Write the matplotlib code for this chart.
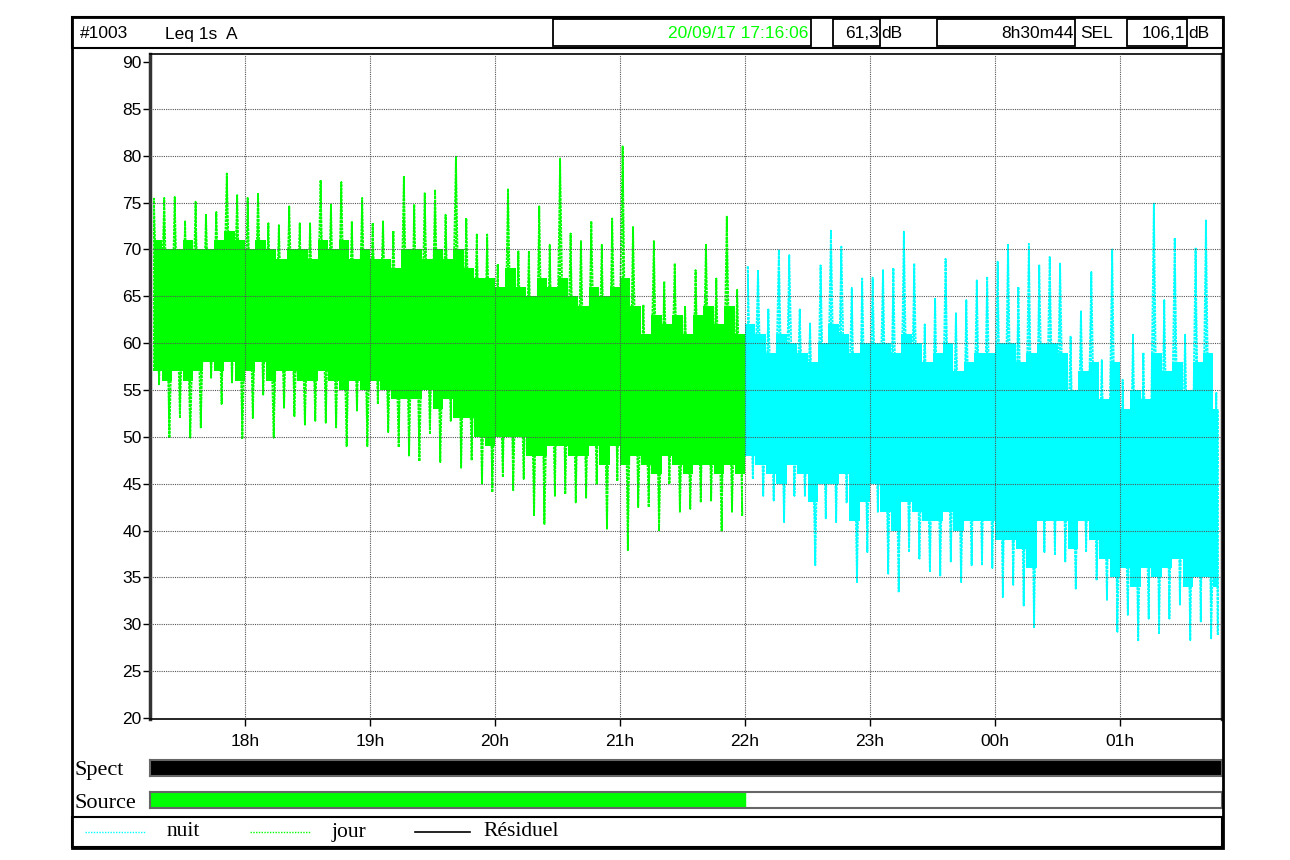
import matplotlib.pyplot as plt
import numpy as np
from matplotlib.lines import Line2D
from matplotlib.patches import Rectangle

# Recording: 20/09/17 17:16:06, duration 8h30m44, Leq 1s A
START = 17 + 16 / 60 + 6 / 3600
END = START + 8 + 30 / 60 + 44 / 3600
NIGHT_START = 22.0
STEP = 1 / 12  # 5 min blocks, first block starts at 17:15

# Per 5-min block: highest spike, lowest dip (dB)
peak_db = [75.5, 75.5, 75.6, 73.0, 75.1, 73.7, 74.0, 78.1, 75.8, 75.5, 76.0, 72.8, 72.6, 74.6, 72.8, 72.8, 77.4,
           74.8, 77.2, 73.0, 75.5, 72.8, 73.0, 72.0, 77.8, 74.8, 76.0, 76.3, 73.7, 79.9, 73.3, 71.6, 71.6, 68.4,
           76.5, 69.8, 69.8, 74.6, 70.5, 79.7, 71.7, 70.9, 73.0, 70.5, 73.3, 81.0, 72.4, 64.1, 70.9, 66.6, 68.5,
           64.0, 67.8, 70.5, 66.9, 73.5, 65.7,
           68.2, 67.8, 63.6, 69.9, 69.4, 63.6, 62.1, 68.3, 72.0, 70.3, 65.9, 66.9,
           67.0, 67.8, 68.0, 71.9, 68.5, 62.0, 64.8, 69.0, 63.2, 64.6, 66.7, 67.1, 68.7, 70.5, 66.0, 70.6, 68.3, 69.2,
           68.5, 60.7, 63.4, 67.6, 58.2, 70.0, 56.1, 60.9, 59.0, 74.9, 64.6, 71.2, 60.9, 70.1, 73.1, 54.7]
dip_db = [55.6, 49.9, 52.0, 49.9, 51.0, 56.3, 53.5, 55.8, 49.8, 52.0, 54.5, 49.9, 53.1, 52.2, 51.3, 51.7, 51.5,
          51.0, 49.0, 52.8, 49.0, 53.5, 50.5, 48.9, 48.0, 47.4, 50.3, 47.3, 51.7, 46.7, 47.5, 45.0, 44.1, 45.7,
          44.3, 45.5, 41.6, 40.7, 43.7, 43.9, 43.0, 43.5, 45.0, 40.2, 45.3, 37.9, 42.5, 42.5, 40.0, 45.0, 42.0,
          42.3, 43.0, 43.2, 40.0, 42.0, 41.6,
          45.5, 43.7, 43.2, 40.9, 43.7, 43.7, 36.3, 41.3, 40.9, 43.0, 34.5, 37.7,
          42.0, 35.4, 33.5, 37.7, 37.0, 35.6, 35.2, 36.7, 34.5, 36.3, 36.3, 36.0, 32.9, 34.2, 32.0, 29.6, 37.7, 37.4,
          36.7, 33.8, 37.7, 34.7, 32.6, 29.2, 31.0, 28.2, 30.6, 29.0, 30.6, 32.1, 28.3, 30.3, 28.5, 28.9]
# Dense core of the trace per block
core_hi = [71, 70, 70, 71, 70, 70, 71, 72, 71, 70, 71, 70, 69, 70, 70, 69, 71,
           70, 71, 69, 70, 69, 69, 68, 70, 70, 69, 70, 69, 70, 68, 67, 67, 66,
           68, 66, 65, 67, 66, 67, 65, 64, 66, 65, 66, 67, 64, 61, 63, 62, 63,
           61, 63, 64, 62, 64, 61,
           62, 61, 59, 61, 60, 59, 58, 60, 62, 61, 59, 60,
           60, 60, 59, 61, 60, 58, 59, 60, 57, 58, 59, 59, 60, 60, 58, 59, 60, 60,
           59, 55, 57, 58, 54, 58, 53, 55, 54, 59, 57, 58, 55, 58, 59, 53]
core_lo = [57, 56, 57, 56, 57, 58, 57, 58, 56, 57, 58, 56, 57, 57, 56, 56, 57,
           56, 55, 56, 55, 56, 55, 54, 54, 54, 55, 53, 54, 52, 52, 50, 49, 50,
           50, 50, 48, 48, 49, 49, 48, 48, 49, 47, 49, 47, 48, 47, 46, 48, 47,
           46, 47, 47, 46, 47, 46,
           48, 47, 46, 45, 47, 46, 43, 45, 45, 46, 41, 43,
           45, 42, 40, 43, 42, 41, 41, 42, 40, 41, 41, 41, 39, 39, 38, 36, 41, 41,
           41, 38, 41, 39, 37, 35, 36, 34, 36, 35, 36, 37, 34, 35, 35, 34]

JOUR = "#00ff00"
NUIT = "#00ffff"

W, H = 1290, 860


def fx(px):
    return px / W


def fy(py):
    return 1 - py / H


def fig_box(x0, y0, x1, y1, **kw):
    fig.add_artist(Rectangle((fx(x0), fy(y1)), fx(x1) - fx(x0), fy(y0) - fy(y1),
                             transform=fig.transFigure, **kw))


plt.rcParams['font.family'] = ['Liberation Sans', 'DejaVu Sans']
fig = plt.figure(figsize=(12.9, 8.6), dpi=100)

# outer frame and header
fig_box(72, 17, 1223, 848, fill=False, lw=2, ec="black")
fig_box(72, 17, 1223, 48, fill=False, lw=1.5, ec="black")
for x0, x1 in [(553, 811), (833, 880), (937, 1075), (1127, 1187)]:
    fig_box(x0, 19, x1, 46, fill=False, lw=1.3, ec="black")

hy = fy(34)
fs = 12.5
fig.text(fx(80), hy, "#1003", fontsize=fs, va="center")
fig.text(fx(165), hy, "Leq 1s  A", fontsize=fs, va="center")
fig.text(fx(808), hy, "20/09/17 17:16:06", fontsize=fs, va="center", ha="right", color=JOUR)
fig.text(fx(879), hy, "61,3", fontsize=fs, va="center", ha="right")
fig.text(fx(881), hy, "dB", fontsize=fs, va="center")
fig.text(fx(1074), hy, "8h30m44", fontsize=fs, va="center", ha="right")
fig.text(fx(1080), hy, "SEL", fontsize=fs, va="center")
fig.text(fx(1185), hy, "106,1", fontsize=fs, va="center", ha="right")
fig.text(fx(1188), hy, "dB", fontsize=fs, va="center")

# main plot
ax = fig.add_axes([fx(150), fy(719), fx(1222) - fx(150), fy(54) - fy(719)])
ax.set_xlim(17.24, 25.816)
ax.set_ylim(19.9, 90.85)

n = len(peak_db)
t0 = 17.25 + np.arange(n) * STEP
night = t0 >= NIGHT_START
dots = (0, (1.5, 0.5))

for mask, col in [(~night, JOUR), (night, NUIT)]:
    idx = np.where(mask)[0]
    tb = t0[idx]
    hi = np.array(peak_db)[idx]
    lo = np.array(dip_db)[idx]
    c_hi = np.array(core_hi)[idx]
    c_lo = np.array(core_lo)[idx]

    seg_a = max(tb[0], START)
    seg_b = min(tb[-1] + STEP, END)
    mids = np.clip(tb + STEP / 2, seg_a, seg_b)
    xs = np.concatenate([[seg_a], mids, [seg_b]])
    ax.fill_between(xs, np.r_[c_lo[0], c_lo, c_lo[-1]], np.r_[c_hi[0], c_hi, c_hi[-1]],
                    step="mid", color=col, lw=0, zorder=2)

    # zigzag between spikes and dips
    zx = np.empty(2 * len(tb))
    zy = np.empty(2 * len(tb))
    zx[0::2] = tb + STEP / 4
    zx[1::2] = tb + 3 * STEP / 4
    zy[0::2] = hi
    zy[1::2] = lo
    zx = np.clip(zx, seg_a, seg_b)
    ax.plot(zx, zy, color=col, lw=1.3, ls=dots, zorder=2)
    ax.vlines(zx[0::2], c_lo, hi, color=col, lw=1.4, linestyles=dots, zorder=2)
    ax.vlines(zx[1::2], lo, c_hi, color=col, lw=1.4, linestyles=dots, zorder=2)

grid_kw = dict(color="#555555", lw=0.8, ls=(0, (1, 1)), zorder=3)
for v in range(25, 90, 5):
    ax.axhline(v, **grid_kw)
for h in range(18, 26):
    ax.axvline(h, **grid_kw)

ax.set_yticks(range(20, 91, 5))
ax.set_xticks(range(18, 26))
ax.set_xticklabels(["18h", "19h", "20h", "21h", "22h", "23h", "00h", "01h"])
ax.tick_params(axis="both", direction="out", length=5, width=1, labelsize=12.5)
ax.tick_params(axis="y", pad=1)
ax.tick_params(axis="x", pad=6)
for side in ["top", "bottom"]:
    ax.spines[side].set_linewidth(1.2)
for side in ["left", "right"]:
    ax.spines[side].set_linewidth(2.5)
    ax.spines[side].set_color("#333333")

# Spect / Source strips on the same time scale
serif = ["Liberation Serif", "DejaVu Serif"]
spect_ax = fig.add_axes([fx(150), fy(776), fx(1222) - fx(150), fy(760) - fy(776)])
spect_ax.set_xlim(ax.get_xlim())
spect_ax.axvspan(17.24, 25.816, color="black")
source_ax = fig.add_axes([fx(150), fy(808), fx(1222) - fx(150), fy(792) - fy(808)])
source_ax.set_xlim(ax.get_xlim())
source_ax.axvspan(17.24, NIGHT_START, color=JOUR)
for a in (spect_ax, source_ax):
    a.set_xticks([])
    a.set_yticks([])
    for s in a.spines.values():
        s.set_color("#666666")
        s.set_linewidth(1.5)

fig.text(fx(75), fy(770), "Spect", fontsize=16, family=serif, va="center")
fig.text(fx(75), fy(803), "Source", fontsize=16, family=serif, va="center")

# legend strip
fig_box(72, 817, 1222, 847, fill=False, lw=1.5, ec="black")
ly = fy(832)
fig.add_artist(Line2D([fx(85), fx(145)], [ly, ly], color=NUIT, lw=1, ls=(0, (1, 1)), transform=fig.transFigure))
fig.add_artist(Line2D([fx(250), fx(310)], [ly, ly], color=JOUR, lw=1, ls=(0, (1, 1)), transform=fig.transFigure))
fig.add_artist(Line2D([fx(415), fx(470)], [ly, ly], color="black", lw=1.2, transform=fig.transFigure))
fig.text(fx(167), ly, "nuit", fontsize=15.5, family=serif, va="center")
fig.text(fx(332), ly, "jour", fontsize=15.5, family=serif, va="center")
fig.text(fx(483), ly, "Résiduel", fontsize=15.5, family=serif, va="center")

fig.savefig("out.png", dpi=100, facecolor="white")
